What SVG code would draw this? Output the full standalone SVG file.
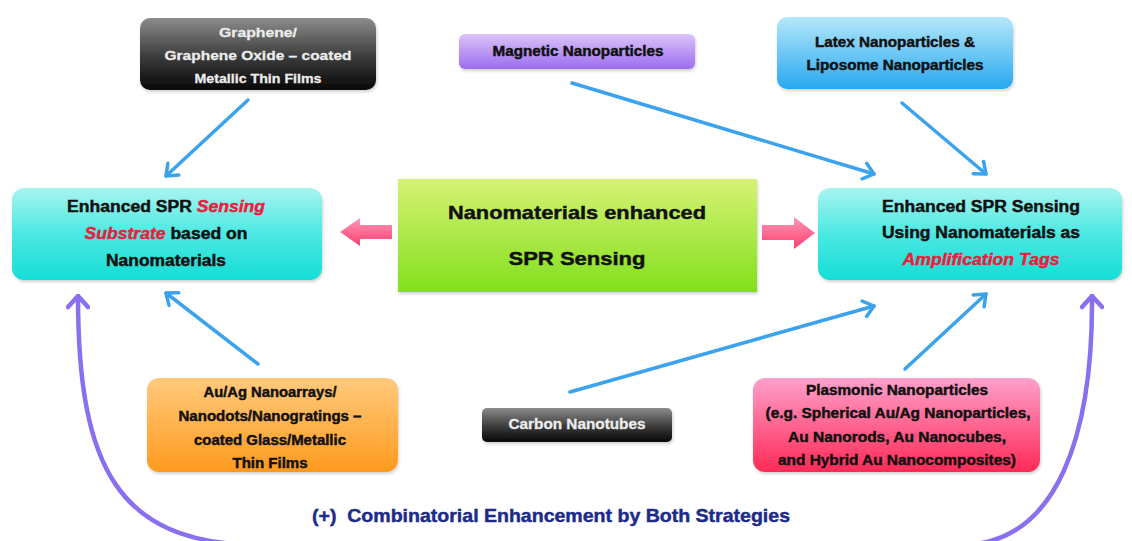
<svg xmlns="http://www.w3.org/2000/svg" width="1132" height="541" viewBox="0 0 1132 541">
  <defs>
    <linearGradient id="gDark" x1="0" y1="0" x2="0" y2="1">
      <stop offset="0" stop-color="#8c8c8c"/>
      <stop offset="0.55" stop-color="#3a3a3a"/>
      <stop offset="1" stop-color="#080808"/>
    </linearGradient>
    <linearGradient id="gPurple" x1="0" y1="0" x2="0" y2="1">
      <stop offset="0" stop-color="#dcc4fa"/>
      <stop offset="1" stop-color="#9c6cee"/>
    </linearGradient>
    <linearGradient id="gBlue" x1="0" y1="0" x2="0" y2="1">
      <stop offset="0" stop-color="#b4e8fa"/>
      <stop offset="1" stop-color="#28a8f0"/>
    </linearGradient>
    <linearGradient id="gCyan" x1="0" y1="0" x2="0" y2="1">
      <stop offset="0" stop-color="#a8f4f0"/>
      <stop offset="0.5" stop-color="#4ce8e2"/>
      <stop offset="1" stop-color="#14ded6"/>
    </linearGradient>
    <linearGradient id="gGreen" x1="0" y1="0" x2="0" y2="1">
      <stop offset="0" stop-color="#d6f274"/>
      <stop offset="1" stop-color="#82e01c"/>
    </linearGradient>
    <linearGradient id="gOrange" x1="0" y1="0" x2="0" y2="1">
      <stop offset="0" stop-color="#ffca7c"/>
      <stop offset="1" stop-color="#ff9a1e"/>
    </linearGradient>
    <linearGradient id="gPink" x1="0" y1="0" x2="0" y2="1">
      <stop offset="0" stop-color="#ffa0cc"/>
      <stop offset="1" stop-color="#ff2a56"/>
    </linearGradient>
    <linearGradient id="gArrow" x1="0" y1="0" x2="0" y2="1">
      <stop offset="0" stop-color="#ff9ab8"/>
      <stop offset="1" stop-color="#ff3c70"/>
    </linearGradient>
    <filter id="shadow" x="-5%" y="-10%" width="110%" height="130%">
      <feDropShadow dx="1" dy="2" stdDeviation="1.5" flood-color="#000" flood-opacity="0.18"/>
    </filter>
    <marker id="headBlue" viewBox="-12 -10 14 20" refX="0" refY="0" markerWidth="14" markerHeight="20" markerUnits="userSpaceOnUse" orient="auto">
      <path d="M-10,-8 L0,0 L-10,8" fill="none" stroke="#3ba2ee" stroke-width="3.5" stroke-linecap="round" stroke-linejoin="round"/>
    </marker>
    <marker id="headPurple" viewBox="-14 -12 16 24" refX="0" refY="0" markerWidth="16" markerHeight="24" markerUnits="userSpaceOnUse" orient="auto">
      <path d="M-11,-10 L0,0 L-11,10" fill="none" stroke="#8a6ff0" stroke-width="4.5" stroke-linecap="round" stroke-linejoin="round"/>
    </marker>
  </defs>
  <style>
    text { font-family: "Liberation Sans", Arial, sans-serif; font-weight: bold; text-anchor: middle; stroke-width: 0.45px; }
    .dk { fill: #111; stroke: #111; }
    .wt { fill: #ececec; stroke: #ececec; stroke-width: 0.3px; }
    .red { fill: #e8203c; stroke: #e8203c; font-style: italic; }
    .f13 { font-size: 13.5px; }
    .f14 { font-size: 14px; }
    .f16 { font-size: 16px; }
    .f19 { font-size: 19px; }
    .box { filter: url(#shadow); }
    .blue { fill: none; stroke: #3ba2ee; stroke-width: 3.5; stroke-linecap: round; marker-end: url(#headBlue); }
    .purple { fill: none; stroke: #8a6ff0; stroke-width: 4.5; stroke-linecap: round; }
  </style>

  <rect width="1132" height="541" fill="#ffffff"/>

  <!-- connectors -->
  <g id="connectors">
    <line class="blue" x1="248" y1="100" x2="166" y2="176"/>
    <line class="blue" x1="572" y1="83" x2="874" y2="174"/>
    <line class="blue" x1="902" y1="103" x2="986" y2="174"/>
    <line class="blue" x1="258" y1="364" x2="166" y2="293"/>
    <line class="blue" x1="570" y1="392" x2="874" y2="306"/>
    <line class="blue" x1="905" y1="369" x2="986" y2="294"/>
    <!-- combined strategy loop -->
    <path class="purple" d="M250,545 C120,540 78,470 78,296" marker-end="url(#headPurple)"/>
    <path class="purple" d="M250,545 L960,545 C1060,545 1093,430 1092,296" marker-end="url(#headPurple)"/>
    <!-- block arrows from the centre -->
    <path d="M392,225 L360,225 L360,218 L340,232 L360,246 L360,239 L392,239 Z" fill="url(#gArrow)"/>
    <path d="M762,225 L794,225 L794,217 L815,233 L794,249 L794,240 L762,240 Z" fill="url(#gArrow)"/>
  </g>

  <g id="graphene">
    <rect class="box" x="140" y="18" width="236" height="72" rx="10" fill="url(#gDark)"/>
    <text class="wt f13" x="258" y="37" textLength="78" lengthAdjust="spacingAndGlyphs">Graphene/</text>
    <text class="wt f13" x="258" y="60" textLength="187" lengthAdjust="spacingAndGlyphs">Graphene Oxide – coated</text>
    <text class="wt f13" x="258" y="83" textLength="127" lengthAdjust="spacingAndGlyphs">Metallic Thin Films</text>
  </g>

  <g id="magnetic">
    <rect class="box" x="459" y="34" width="236" height="35" rx="6" fill="url(#gPurple)"/>
    <text class="dk f14" x="578" y="56" textLength="171" lengthAdjust="spacingAndGlyphs">Magnetic Nanoparticles</text>
  </g>

  <g id="latex">
    <rect class="box" x="777" y="17" width="236" height="72" rx="10" fill="url(#gBlue)"/>
    <text class="dk f14" x="895" y="47" textLength="160" lengthAdjust="spacingAndGlyphs">Latex Nanoparticles &amp;</text>
    <text class="dk f14" x="895" y="70" textLength="177" lengthAdjust="spacingAndGlyphs">Liposome Nanoparticles</text>
  </g>

  <g id="substrate">
    <rect class="box" x="12" y="188" width="310" height="92" rx="12" fill="url(#gCyan)"/>
    <text class="dk f16" x="166" y="212" textLength="198" lengthAdjust="spacingAndGlyphs">Enhanced SPR <tspan class="red">Sensing</tspan></text>
    <text class="dk f16" x="166" y="239" textLength="163" lengthAdjust="spacingAndGlyphs"><tspan class="red">Substrate</tspan> based on</text>
    <text class="dk f16" x="166" y="266" textLength="120" lengthAdjust="spacingAndGlyphs">Nanomaterials</text>
  </g>

  <g id="center">
    <rect class="box" x="398" y="179" width="359" height="113" fill="url(#gGreen)"/>
    <text class="dk f19" x="577" y="219" textLength="258" lengthAdjust="spacingAndGlyphs">Nanomaterials enhanced</text>
    <text class="dk f19" x="577" y="265" textLength="137" lengthAdjust="spacingAndGlyphs">SPR Sensing</text>
  </g>

  <g id="tags">
    <rect class="box" x="818" y="188" width="304" height="92" rx="12" fill="url(#gCyan)"/>
    <text class="dk f16" x="981" y="212" textLength="198" lengthAdjust="spacingAndGlyphs">Enhanced SPR Sensing</text>
    <text class="dk f16" x="981" y="238" textLength="198" lengthAdjust="spacingAndGlyphs">Using Nanomaterials as</text>
    <text class="red f16" x="981" y="265" textLength="157" lengthAdjust="spacingAndGlyphs">Amplification Tags</text>
  </g>

  <g id="nanoarrays">
    <rect class="box" x="147" y="378" width="251" height="94" rx="12" fill="url(#gOrange)"/>
    <text class="dk f14" x="270" y="397" textLength="133" lengthAdjust="spacingAndGlyphs">Au/Ag Nanoarrays/</text>
    <text class="dk f14" x="270" y="421" textLength="183" lengthAdjust="spacingAndGlyphs">Nanodots/Nanogratings –</text>
    <text class="dk f14" x="270" y="445" textLength="152" lengthAdjust="spacingAndGlyphs">coated Glass/Metallic</text>
    <text class="dk f14" x="270" y="468" textLength="75" lengthAdjust="spacingAndGlyphs">Thin Films</text>
  </g>

  <g id="carbon">
    <rect class="box" x="482" y="408" width="190" height="34" rx="5" fill="url(#gDark)"/>
    <text class="wt f14" x="577" y="429" textLength="137" lengthAdjust="spacingAndGlyphs">Carbon Nanotubes</text>
  </g>

  <g id="plasmonic">
    <rect class="box" x="753" y="378" width="287" height="94" rx="12" fill="url(#gPink)"/>
    <text class="dk f14" x="897" y="395" textLength="182" lengthAdjust="spacingAndGlyphs">Plasmonic Nanoparticles</text>
    <text class="dk f14" x="898" y="418" textLength="265" lengthAdjust="spacingAndGlyphs">(e.g. Spherical Au/Ag Nanoparticles,</text>
    <text class="dk f14" x="897" y="442" textLength="218" lengthAdjust="spacingAndGlyphs">Au Nanorods, Au Nanocubes,</text>
    <text class="dk f14" x="897" y="465" textLength="238" lengthAdjust="spacingAndGlyphs">and Hybrid Au Nanocomposites)</text>
  </g>

  <g id="caption">
    <text x="312" y="522" style="text-anchor:start;font-size:19px;fill:#1c2a88;stroke:#1c2a88;white-space:pre" textLength="478" lengthAdjust="spacingAndGlyphs">(+)  Combinatorial Enhancement by Both Strategies</text>
  </g>
</svg>
